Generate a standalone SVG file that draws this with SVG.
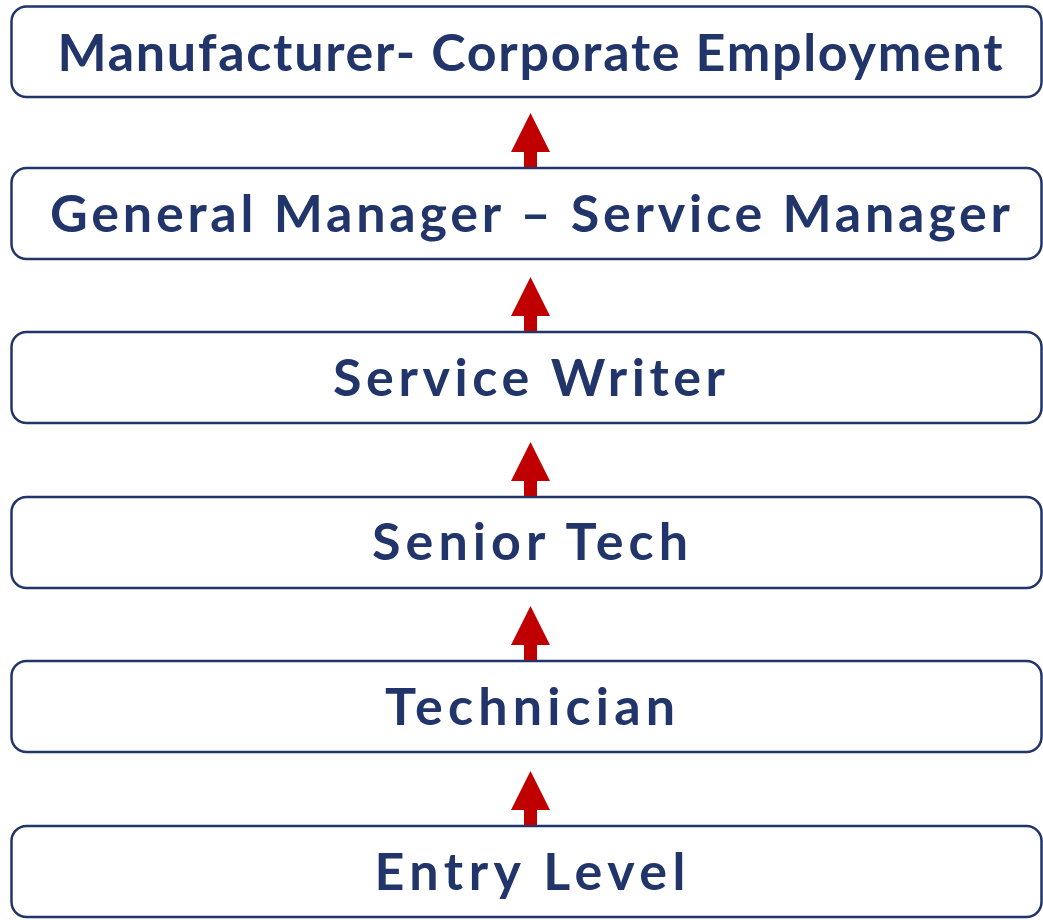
<svg xmlns="http://www.w3.org/2000/svg" width="1043" height="920" viewBox="0 0 1043 920">
<style>
.box{fill:#fff;stroke:#22356A;stroke-width:2.5}
.t{font-family:Lato,"Open Sans",sans-serif;font-weight:bold;font-size:52px;fill:#22356A;text-anchor:middle}
.ar{fill:#C00000}
</style>
<rect width="1043" height="920" fill="#fff"/>
<g id="n1"><rect class="box" x="11.5" y="6.5" width="1030" height="90.5" rx="15"/><text class="t" x="530" y="71" textLength="945" lengthAdjust="spacing">Manufacturer- Corporate Employment</text></g>
<g id="n2"><rect class="box" x="11.5" y="168" width="1030" height="91" rx="15"/><text class="t" x="530" y="232" textLength="960" lengthAdjust="spacing">General Manager – Service Manager</text></g>
<g id="n3"><rect class="box" x="11.5" y="332" width="1030" height="91" rx="15"/><text class="t" x="529" y="396" textLength="392" lengthAdjust="spacing">Service Writer</text></g>
<g id="n4"><rect class="box" x="11.5" y="497" width="1030" height="91" rx="15"/><text class="t" x="530" y="560" textLength="316" lengthAdjust="spacing">Senior Tech</text></g>
<g id="n5"><rect class="box" x="11.5" y="661" width="1030" height="91" rx="15"/><text class="t" x="530" y="725" textLength="290" lengthAdjust="spacing">Technician</text></g>
<g id="n6"><rect class="box" x="11.5" y="826" width="1030" height="91" rx="15"/><text class="t" x="530" y="890" textLength="311" lengthAdjust="spacing">Entry Level</text></g>
<g id="connectors">
<path class="ar" d="M530.5 113 L550 152 L537 152 L537 167 L524 167 L524 152 L511 152 Z"/>
<path class="ar" d="M530.5 277 L550 316 L537 316 L537 331 L524 331 L524 316 L511 316 Z"/>
<path class="ar" d="M530.5 442 L550 481 L537 481 L537 496 L524 496 L524 481 L511 481 Z"/>
<path class="ar" d="M530.5 606 L550 645 L537 645 L537 660 L524 660 L524 645 L511 645 Z"/>
<path class="ar" d="M530.5 771 L550 810 L537 810 L537 825 L524 825 L524 810 L511 810 Z"/>
</g>
</svg>
